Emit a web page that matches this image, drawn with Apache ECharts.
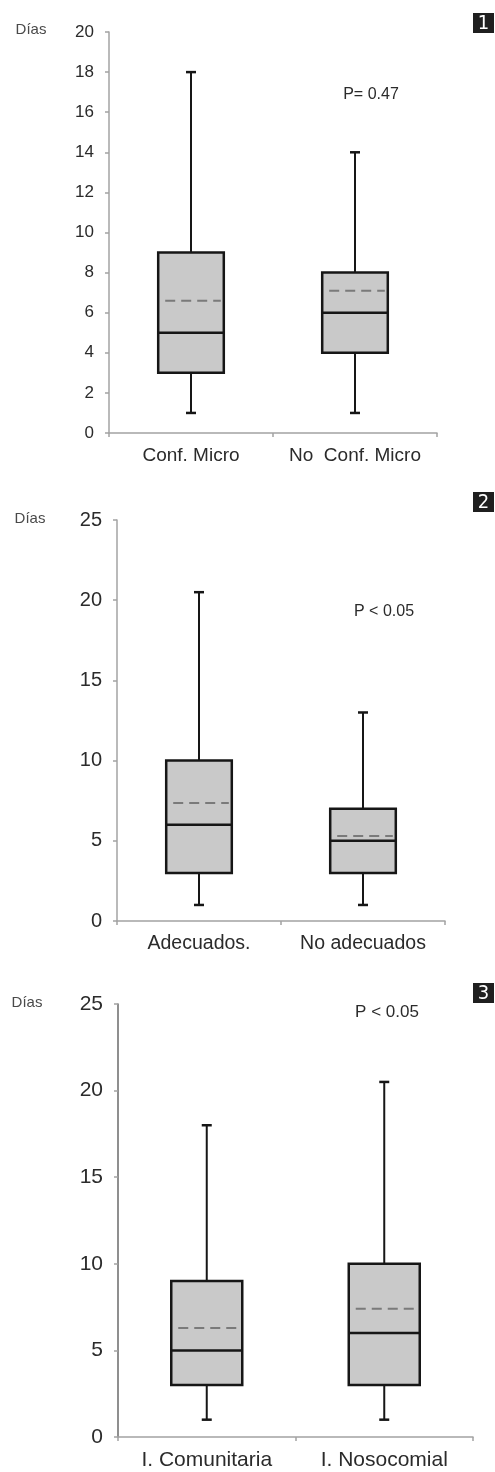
<!DOCTYPE html>
<html>
<head>
<meta charset="utf-8">
<script src="https://cdn.jsdelivr.net/npm/echarts@6/dist/echarts.min.js"></script>
<style>
html,body{margin:0;padding:0;background:#fff;}
#chart{width:495px;height:1472px;}
</style>
</head>
<body>
<div id="chart"></div>
<script>
// ---- Data ----
// Box data: [min, Q1, median, Q3, max]
const cats1 = ['Conf. Micro', 'No  Conf. Micro'];
const box1 = [[1, 3, 5, 9, 18], [1, 4, 6, 8, 14]];
const mean1 = [6.6, 7.1];
const pText1 = 'P= 0.47';

const cats2 = ['Adecuados.', 'No adecuados'];
const box2 = [[1, 3, 6, 10, 20.5], [1, 3, 5, 7, 13]];
const mean2 = [7.35, 5.3];
const pText2 = 'P < 0.05';

const cats3 = ['I. Comunitaria', 'I. Nosocomial'];
const box3 = [[1, 3, 5, 9, 18], [1, 3, 6, 10, 20.5]];
const mean3 = [6.3, 7.4];
const pText3 = 'P < 0.05';

const yTicks1 = [0, 20, 2];   // min, max, interval
const yTicks2 = [0, 25, 5];
const yTicks3 = [0, 25, 5];
const yLabel = 'Días';

// ---- Rendering ----
const FONT = 'Liberation Sans, Arial, sans-serif';

function buildData(box, mean) {
  return box.map((b, i) => [i, b[0], b[1], b[2], b[3], b[4], mean[i]]);
}

function renderBox(params, api) {
  const x = api.value(0);
  const pLow = api.coord([x, api.value(1)]);
  const pQ1 = api.coord([x, api.value(2)]);
  const pMed = api.coord([x, api.value(3)]);
  const pQ3 = api.coord([x, api.value(4)]);
  const pHigh = api.coord([x, api.value(5)]);
  const pMean = api.coord([x, api.value(6)]);
  const band = api.size([1, 0])[0];
  const half = band * 0.2;
  const cx = pLow[0];
  const cap = 5;
  const dark = '#161616';
  return {
    type: 'group',
    children: [
      { type: 'rect', shape: { x: cx - half, y: pQ3[1], width: half * 2, height: pQ1[1] - pQ3[1] },
        style: { fill: '#c9c9c9', stroke: dark, lineWidth: 2.5 } },
      { type: 'line', shape: { x1: cx, y1: pQ3[1], x2: cx, y2: pHigh[1] }, style: { stroke: dark, lineWidth: 2 } },
      { type: 'line', shape: { x1: cx, y1: pQ1[1], x2: cx, y2: pLow[1] }, style: { stroke: dark, lineWidth: 2 } },
      { type: 'line', shape: { x1: cx - cap, y1: pHigh[1], x2: cx + cap, y2: pHigh[1] }, style: { stroke: dark, lineWidth: 2.5 } },
      { type: 'line', shape: { x1: cx - cap, y1: pLow[1], x2: cx + cap, y2: pLow[1] }, style: { stroke: dark, lineWidth: 2.5 } },
      { type: 'line', shape: { x1: cx - half, y1: pMed[1], x2: cx + half, y2: pMed[1] }, style: { stroke: dark, lineWidth: 2.5 } },
      { type: 'line', shape: { x1: cx - half + 7, y1: pMean[1], x2: cx + half - 3, y2: pMean[1] },
        style: { stroke: '#7a7a7a', lineWidth: 2, lineDash: [10, 6] } }
    ]
  };
}

const grids = [
  { left: 109, top: 32, width: 328, height: 401, outerBoundsMode: 'none' },
  { left: 117, top: 520, width: 328, height: 401, outerBoundsMode: 'none' },
  { left: 118, top: 1004, width: 355, height: 433, outerBoundsMode: 'none' }
];
const catsAll = [cats1, cats2, cats3];
const yAll = [yTicks1, yTicks2, yTicks3];
const yFont = [17, 20, 21];
const xFont = [19, 19.5, 21];
const yAxisColor = ['#a3a3a3', '#a3a3a3', '#6a6a6a'];

const xAxes = catsAll.map((c, i) => ({
  type: 'category', gridIndex: i, data: c,
  boundaryGap: true,
  axisLine: { lineStyle: { color: '#a3a3a3', width: 1.5 } },
  axisTick: { show: true, inside: false, length: 4, alignWithLabel: false, lineStyle: { color: '#a3a3a3', width: 1.5 } },
  axisLabel: { color: '#2b2b2b', fontFamily: FONT, fontSize: xFont[i], margin: 13, interval: 0 },
  splitLine: { show: false }
}));
const yAxes = yAll.map((t, i) => ({
  type: 'value', gridIndex: i, min: t[0], max: t[1], interval: t[2],
  axisLine: { show: true, lineStyle: { color: yAxisColor[i], width: 1.5 } },
  axisTick: { show: true, inside: false, length: 4, lineStyle: { color: '#a3a3a3', width: 1.5 } },
  axisLabel: { color: '#2b2b2b', fontFamily: FONT, fontSize: yFont[i], margin: 15 },
  splitLine: { show: false }
}));

const series = [[box1, mean1], [box2, mean2], [box3, mean3]].map((d, i) => ({
  type: 'custom', xAxisIndex: i, yAxisIndex: i,
  renderItem: renderBox,
  encode: { x: 0, y: [1, 2, 3, 4, 5, 6] },
  data: buildData(d[0], d[1]),
  clip: false
}));

function badge(num, top) {
  return [
    { type: 'rect', left: 473, top: top, shape: { width: 21, height: 20 }, style: { fill: '#1f1f1f' } },
    { type: 'text', x: 483.5, y: top + 10.5, style: { text: String(num), fill: '#fff', font: '20px "DejaVu Sans Condensed", "Open Sans", sans-serif', textAlign: 'center', textVerticalAlign: 'middle' } }
  ];
}
function label(text, x, y, size, color) {
  return { type: 'text', x: x, y: y, style: { text: text, fill: color, font: size + 'px ' + FONT, textAlign: 'center', textVerticalAlign: 'middle' } };
}

const graphic = [
  label(yLabel, 31, 30, 15, '#4a4a4a'),
  label(yLabel, 30, 519, 15, '#4a4a4a'),
  label(yLabel, 27, 1003, 15, '#4a4a4a'),
  label(pText1, 371, 95, 16, '#2b2b2b'),
  label(pText2, 384, 612, 16, '#2b2b2b'),
  label(pText3, 387, 1012, 17, '#2b2b2b'),
  ...badge(1, 13), ...badge(2, 492), ...badge(3, 983)
];

const chart = echarts.init(document.getElementById('chart'), null, { renderer: 'canvas' });
chart.setOption({
  backgroundColor: '#fff',
  animation: false,
  grid: grids,
  xAxis: xAxes,
  yAxis: yAxes,
  series: series,
  graphic: graphic
});
</script>
</body>
</html>
